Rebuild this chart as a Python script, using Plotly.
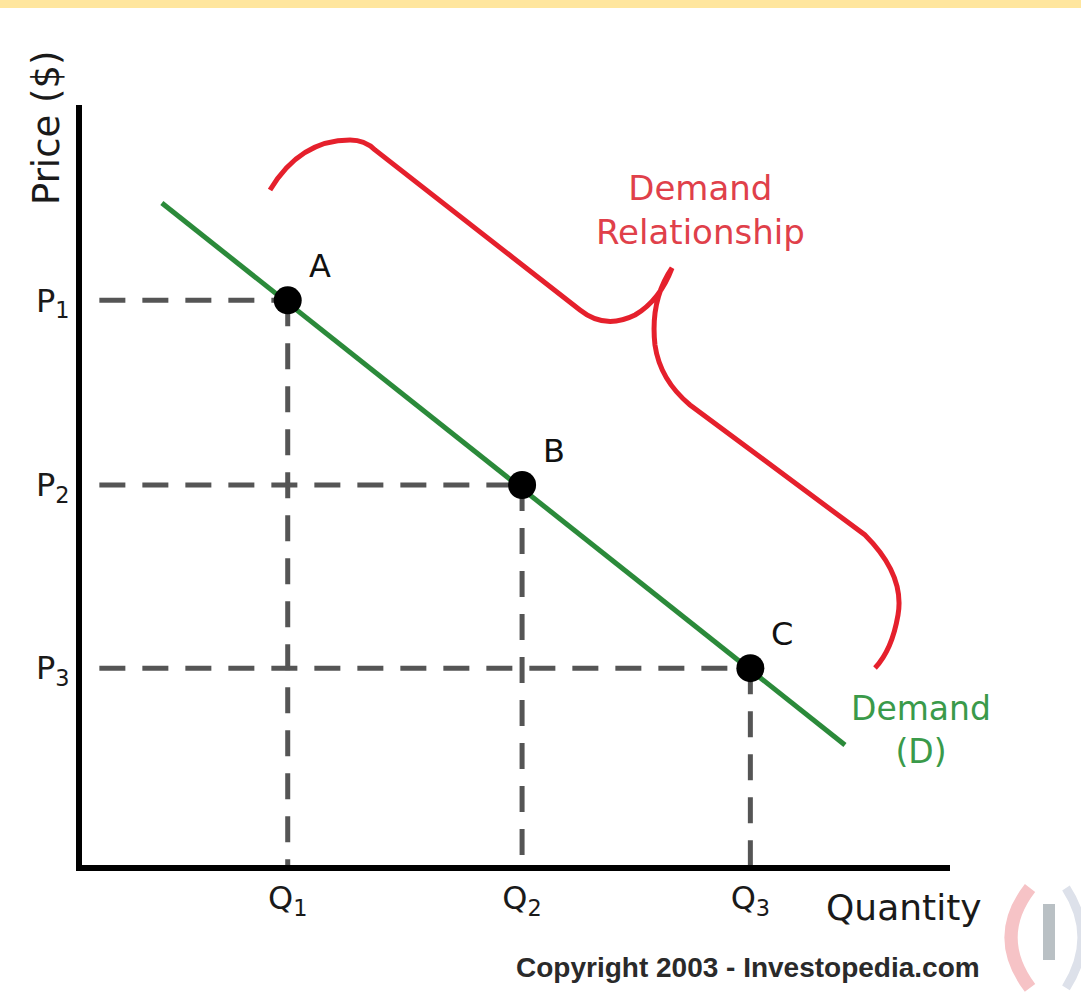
import plotly.graph_objects as go

# Canvas and plot-area geometry (pixels)
W, H = 1081, 1007
ML, MR, MT, MB = 82, 131, 105, 142
PW, PH = W - ML - MR, H - MT - MB

# Demand schedule: three price/quantity combinations on the demand curve
point_names = ["A", "B", "C"]
quantity = [2.37, 5.07, 7.70]
price = [7.43, 5.00, 2.59]
quantity_labels = ["Q<sub>1</sub>", "Q<sub>2</sub>", "Q<sub>3</sub>"]
price_labels = ["P<sub>1</sub>", "P<sub>2</sub>", "P<sub>3</sub>"]

# Demand curve end points
demand_q = [0.92, 8.79]
demand_p = [8.71, 1.58]

FONT = "DejaVu Sans, Verdana, sans-serif"
GREEN = "#2b8a3a"
RED = "#e5202c"
DASH_GREY = "#555555"


def paper(px, py):
    """Convert a canvas pixel position to paper coordinates."""
    return (px - ML) / PW, (MT + PH - py) / PH


def ppath(points):
    """Build an SVG path in paper coordinates from pixel control points."""
    out = []
    for cmd, *pts in points:
        coords = []
        for x, y in pts:
            px_, py_ = paper(x, y)
            coords.append(f"{px_:.4f},{py_:.4f}")
        out.append(cmd + " " + " ".join(coords))
    return " ".join(out)


fig = go.Figure()

# Dashed guides from each point to the axes
for q, p in zip(quantity, price):
    fig.add_trace(go.Scatter(
        x=[0.2, q], y=[p, p], mode="lines",
        line=dict(color=DASH_GREY, width=5, dash="26px,17px"),
        hoverinfo="skip", showlegend=False))
    fig.add_trace(go.Scatter(
        x=[q, q], y=[p, 0], mode="lines",
        line=dict(color=DASH_GREY, width=5, dash="26px,17px"),
        hoverinfo="skip", showlegend=False))

# Demand curve
fig.add_trace(go.Scatter(
    x=demand_q, y=demand_p, mode="lines",
    line=dict(color=GREEN, width=5),
    hoverinfo="skip", showlegend=False))

# Price/quantity points
fig.add_trace(go.Scatter(
    x=quantity, y=price, mode="markers",
    marker=dict(color="black", size=28),
    cliponaxis=False, hoverinfo="skip", showlegend=False))

annotations = []
for name, q, p in zip(point_names, quantity, price):
    annotations.append(dict(
        x=q, y=p, xref="x", yref="y", text=name, showarrow=False,
        xshift=32, yshift=34, font=dict(family=FONT, size=32, color="#111111")))


def ann(text, px, py, size, color, **kw):
    x, y = paper(px, py)
    d = dict(x=x, y=y, xref="paper", yref="paper", text=text, showarrow=False,
             xanchor="center", yanchor="middle",
             font=dict(family=kw.pop("family", FONT), size=size, color=color))
    d.update(kw)
    annotations.append(d)


ann("Price ($)", 46, 128, 37, "#1a1a1a", textangle=-90)
ann("Quantity", 904, 907, 36, "#1a1a1a")
ann("<b>Copyright 2003 - Investopedia.com</b>", 748, 967, 28, "#2a2a2a",
    family="Liberation Sans, Arial, sans-serif")
ann("Demand<br>Relationship", 700, 210, 34, "#e0404a")
ann("Demand<br>(D)", 921, 730, 33, "#3a9a4a")

shapes = []

# Curly brace grouping the points
brace = [
    ("M", (270, 190)),
    ("Q", (300, 140), (350, 140)),
    ("Q", (365, 140), (375, 150)),
    ("L", (580, 310)),
    ("Q", (605, 330), (635, 315)),
    ("Q", (660, 300), (672, 268)),
    ("Q", (650, 300), (655, 345)),
    ("Q", (660, 380), (690, 405)),
    ("L", (865, 535)),
    ("Q", (905, 575), (898, 615)),
    ("Q", (892, 650), (875, 668)),
]
shapes.append(dict(type="path", xref="paper", yref="paper", path=ppath(brace),
                   line=dict(color=RED, width=5)))

# Top strip
x0, y0 = paper(0, 0)
x1, y1 = paper(W, 8)
shapes.append(dict(type="rect", xref="paper", yref="paper", x0=x0, x1=x1, y0=y1, y1=y0,
                   fillcolor="#ffe69e", line=dict(width=0), layer="below"))

# Faded logo in the lower right corner
shapes.append(dict(type="path", xref="paper", yref="paper",
                   path=ppath([("M", (1030, 888)), ("Q", (992, 937), (1030, 988))]),
                   line=dict(color="#f6c3c6", width=13)))
shapes.append(dict(type="path", xref="paper", yref="paper",
                   path=ppath([("M", (1066, 888)), ("Q", (1098, 937), (1066, 988))]),
                   line=dict(color="#dde1ea", width=9)))
bx0, by0 = paper(1043, 904)
bx1, by1 = paper(1055, 960)
shapes.append(dict(type="rect", xref="paper", yref="paper", x0=bx0, x1=bx1, y0=by1, y1=by0,
                   fillcolor="#b9c0c4", line=dict(width=0)))

axis_common = dict(
    range=[0, 10], showgrid=False, zeroline=False, showline=True,
    linecolor="black", linewidth=6, ticks="", fixedrange=True,
    tickfont=dict(family=FONT, size=32, color="#1a1a1a"),
)

fig.update_layout(
    width=W, height=H,
    margin=dict(l=ML, r=MR, t=MT, b=MB),
    paper_bgcolor="white", plot_bgcolor="white",
    xaxis=dict(tickvals=quantity, ticktext=quantity_labels, **axis_common),
    yaxis=dict(tickvals=price, ticktext=price_labels, **axis_common),
    annotations=annotations,
    shapes=shapes,
    showlegend=False,
)

fig.write_html("out.html")
